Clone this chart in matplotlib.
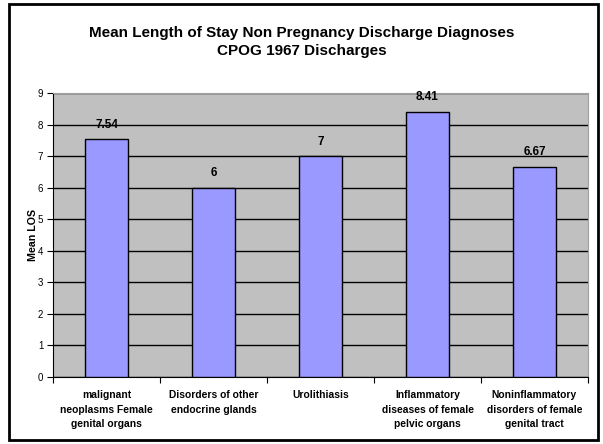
import matplotlib
matplotlib.use("Agg")
import matplotlib.pyplot as plt
from matplotlib.patches import Rectangle

categories = ["malignant\nneoplasms Female\ngenital organs",
              "Disorders of other\nendocrine glands",
              "Urolithiasis",
              "Inflammatory\ndiseases of female\npelvic organs",
              "Noninflammatory\ndisorders of female\ngenital tract"]
values = [7.54, 6, 7, 8.41, 6.67]
value_labels = ["7.54", "6", "7", "8.41", "6.67"]
title = "Mean Length of Stay Non Pregnancy Discharge Diagnoses\nCPOG 1967 Discharges"

plt.rcParams['font.family'] = ['Liberation Sans', 'DejaVu Sans']

fig = plt.figure(figsize=(6.03, 4.44), dpi=100)
ax = fig.add_axes([53/603, 1-377/444, (588-53)/603, (377-93)/444])
ax.set_facecolor('#C0C0C0')

x = list(range(len(categories)))
bars = ax.bar(x, values, width=0.41, color='#9999FF', edgecolor='black', linewidth=1.0, zorder=3)
for xi, v, lab in zip(x, values, value_labels):
    ax.text(xi, v + 0.27, lab, ha='center', va='bottom', fontsize=8.5, fontweight='bold', zorder=4)

ax.set_xlim(-0.5, len(categories) - 0.5)
ax.set_ylim(0, 9)
ax.set_yticks(range(0, 10))
ax.yaxis.grid(True, color='black', linewidth=1.0, zorder=1)
ax.set_axisbelow(True)
ax.tick_params(axis='y', labelsize=7, length=4, direction='out', pad=3)

ax.set_xticks([i + 0.5 for i in range(-1, len(categories))])
ax.set_xticklabels([])
ax.tick_params(axis='x', length=4, direction='out')
for xi, c in zip(x, categories):
    ax.text(xi, -0.42, c, ha='center', va='top', fontsize=7.4, fontweight='bold',
            linespacing=1.55, transform=ax.transData)

for s in ['top', 'right']:
    ax.spines[s].set_color('#A0A0A0')
for s in ['left', 'bottom']:
    ax.spines[s].set_color('black')

ax.set_ylabel("Mean LOS", fontsize=7.7, fontweight='bold', labelpad=0)

fig.text(0.5, 1-42/444, title, ha='center', va='center', fontsize=11, fontweight='bold', linespacing=1.3)

fig.patches.append(Rectangle((9/603, 1-440/444), (598-9)/603, (440-4)/444, transform=fig.transFigure,
                             fill=False, edgecolor='black', linewidth=2.0))

fig.savefig("out.png", dpi=100)
